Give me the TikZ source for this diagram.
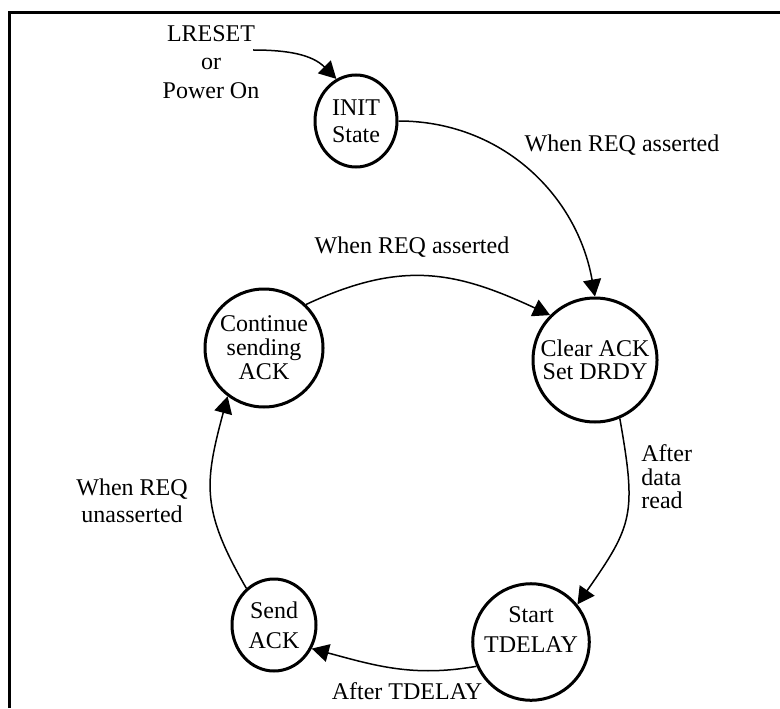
\documentclass[tikz,border=0pt]{standalone}
\usepackage{fontspec}
\setmainfont{Liberation Serif}
\usetikzlibrary{arrows.meta,shapes.geometric}
\tikzset{>={Triangle[length=8.5pt,width=9pt]}}
\tikzset{state/.style={draw,circle,line width=1.5pt,inner sep=0pt,align=center},
  oval/.style={draw,ellipse,line width=1.5pt,inner sep=0pt,align=center},
  trans/.style={->,line width=0.75pt},
  lbl/.style={align=center}}
\newcommand{\fs}[1]{\fontsize{12}{#1}\selectfont}

\begin{document}
\begin{tikzpicture}[x=0.5pt,y=0.5pt,font=\fs{14pt}]
\useasboundingbox (0,0) rectangle (780,708);
\draw[line width=1.5pt] (9.5,0) -- (9.5,695) -- (780,695);% frame, cut at the page edge
% states
\node[oval,minimum width=41pt,minimum height=46pt,font=\fs{13.5pt}] (init) at (356,587) {INIT\\State};
\node[state,minimum size=62pt,font=\fs{11.5pt}] (clear) at (595,348) {Clear ACK\\Set DRDY};
\node[state,minimum size=59pt,font=\fs{12pt}] (cont) at (264,360) {Continue\\sending\\ACK};
\node[state,minimum size=53pt,font=\fs{15pt}] (start) at (531,66) {Start\\TDELAY\\[-3pt]};
\node[oval,minimum width=42pt,minimum height=46pt,font=\fs{15pt}] (send) at (274,83) {Send\\ACK};
% labels
\node[lbl,font=\fs{14.25pt}] (lreset) at (211,646) {LRESET\\or\\Power On};
\coordinate (src) at (253,658);
\node[lbl] (lblA) at (622,563) {When REQ asserted};
\node[lbl] (lblB) at (412,461) {When REQ asserted};
\node[align=left,anchor=west,inner sep=0pt,font=\fs{11.75pt}] (lblC) at (641,231) {After\\data\\read};
\node[lbl] (lblD) at (407,17) {After TDELAY};
\node[lbl,font=\fs{13.5pt}] (lblE) at (132,207) {When REQ\\unasserted};
% transitions
\draw[trans] (src) to[out=0,in=135] (init.115);
\draw[trans] (init.east) to[out=0,in=100] (clear.north);
\draw[trans] (cont.46) to[out=25,in=155,looseness=1.1] (clear.135);
\draw[trans] (clear.-67) to[out=-80,in=55,looseness=1.3] (start.39);
\draw[trans] (start.204) to[out=190,in=-15] (send.-32);
\draw[trans] (send.127) to[out=120,in=-105,looseness=1.2] (cont.233);
\end{tikzpicture}
\end{document}
